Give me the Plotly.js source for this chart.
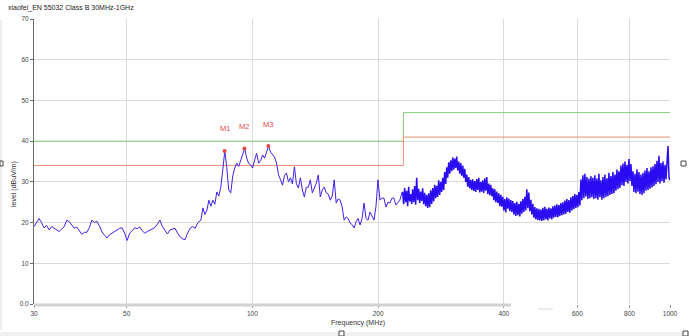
<!DOCTYPE html>
<html>
<head>
<meta charset="utf-8">
<script src="https://cdn.plot.ly/plotly-3.0.1.min.js"></script>
<style>
  html, body { margin: 0; padding: 0; background: #ffffff; }
  #chart { width: 689px; height: 336px; }
</style>
</head>
<body>
<div id="chart"></div>
<script>
// ---- data ----
const chartTitle = 'xiaofei_EN 55032 Class B 30MHz-1GHz';
const xTickVals = [30, 50, 100, 200, 400, 600, 800, 1000];
const xTickText = ['30', '50', '100', '200', '400', '600', '800', '1000'];
const yTickVals = [0, 10, 20, 30, 40, 50, 60, 70];
const yTickText = ['0.0', '10', '20', '30', '40', '50', '60', '70'];

// limit lines (MHz, dBuV/m)
const limitFreq = [30, 230, 230, 1000];
const classBLimit = [40, 40, 47, 47];
const marginLimit = [34, 34, 41, 41];

// measured trace, three sweep segments (levels evenly spaced in log frequency)
const segAStart = 30, segAStop = 75;
const levelA = [19, 20, 21, 20, 18.7, 19.3, 18.2, 19, 18.6, 18,
  17.8, 18.4, 19, 20.6, 20.2, 19.4, 18.6, 18.9, 18.1, 17.1,
  17.6, 17.6, 18.8, 20.6, 20, 20.3, 19.2, 17.7, 16.9, 16.2,
  17, 17.4, 18, 18.3, 18.6, 18.7, 17.4, 15.6, 17.4, 18,
  18.7, 18.5, 18.9, 18, 17.4, 17.8, 18.2, 18.5, 18.8, 19.6,
  20.6, 19, 18, 17.2, 18.2, 18.5, 18.6, 17.4, 16.5, 16,
  15.8, 17.4, 18.6, 19, 18.6, 19.9, 20.6];

const segBStart = 75.3, segBStop = 228;
const levelB = [20.6, 23.6, 22, 23, 25.5, 24, 25.5, 24.5, 27.5, 26.5,
  28.7, 33, 37.6, 33.5, 28, 27.3, 31.5, 33.4, 34.6, 33.8,
  35.4, 36.6, 38.2, 35.9, 34.5, 34.2, 33.4, 35.4, 37, 34.6,
  35.2, 36.6, 35.8, 37.3, 38.8, 37.3, 36.8, 36.1, 34.6, 31.8,
  30.5, 29.2, 31.5, 32.2, 30, 31, 29.5, 33.7, 29.5, 28.5,
  31, 28, 26.3, 28.7, 28.7, 30.5, 27.3, 28.5, 29.7, 31.7,
  26.3, 28, 28.7, 27.3, 27, 25.5, 26.5, 30.5, 24.8, 25.8,
  25.5, 23.8, 20.6, 21.4, 21, 19.9, 19.5, 18.7, 20.2, 21,
  19.4, 21, 24.8, 21, 20.6, 22.6, 21.5, 20.6, 24, 30.5,
  25.5, 26, 26, 23.8, 25, 24.8, 26, 26, 24.3, 25,
  25.5, 27.3];

const segCStart = 229, segCStop = 1000;
const levelC = [27.5, 24.5, 28.5, 25, 27.8, 24, 28.8, 25.2, 27, 24.6,
  28.2, 25, 29, 24.4, 31, 25.5, 28.3, 24.8, 27.6, 25.3,
  28.4, 24.5, 27.3, 24, 26.8, 23.6, 27.2, 23.8, 27.9, 24.6,
  28.5, 25.2, 29.3, 26, 29, 26.3, 30.4, 26.8, 30, 27.5,
  31, 28, 32.4, 29.5, 33.6, 31, 34.8, 32, 35.3, 32.6,
  36, 33, 35.7, 33.4, 36.2, 32.8, 35, 32, 34.6, 31.5,
  34, 31, 33.2, 30, 31.8, 28.8, 31.2, 28.4, 30.5, 28,
  30.6, 27.8, 30.2, 27.5, 30.7, 28, 31, 27.4, 30, 27.6,
  30.4, 27.3, 30.9, 27.8, 31.2, 27, 29.6, 26.7, 29.3, 26.5,
  28.4, 25.5, 28.2, 25, 27.6, 24.8, 27.2, 24, 26.8, 23.9,
  26.3, 23, 25.8, 22.5, 26.2, 23.4, 25.9, 22.8, 25.5, 22.6,
  25.3, 22, 24.8, 21.6, 25.1, 21.8, 24.6, 21.5, 25.2, 22.2,
  25.8, 22.6, 26.3, 23, 28.2, 23.5, 27.4, 22.8, 25.6, 22,
  24.6, 21.2, 23.8, 20.8, 23.5, 20.6, 23.4, 20.5, 23.2, 20.4,
  23.6, 20.6, 23.9, 20.8, 23.4, 20.5, 23.7, 21, 23.5, 20.8,
  24, 21.2, 24.2, 21.4, 24.5, 21.3, 24.3, 21.6, 24.8, 21.8,
  25, 22, 25.4, 22.2, 25.8, 22.6, 25.5, 22.4, 26.2, 23,
  26.5, 23.3, 27, 23.6, 26.8, 23.8, 27.5, 24.2, 30.6, 25.5,
  31.6, 26, 32, 26.4, 31.2, 25.8, 30.8, 26, 31.4, 26.2,
  31, 25.8, 31.6, 26, 30.8, 25.6, 32, 26.2, 30.4, 25.6,
  31.2, 26, 31.8, 26.3, 30.9, 26.5, 32.2, 26.8, 31.4, 27,
  32.4, 27.2, 31.8, 27.8, 33, 28.2, 32.6, 28.5, 34, 29.2,
  34.5, 29, 35, 30, 34.2, 29.6, 35.6, 30.2, 34.4, 29,
  32.6, 27.5, 32, 27.2, 33.1, 27.6, 32.4, 27, 31.8, 26.8,
  32.2, 27.2, 32.8, 27.8, 33.4, 28, 32.6, 28.3, 33.6, 28.6,
  33.8, 29, 34.4, 29.4, 35.2, 30, 36.4, 29.6, 34.6, 30.2,
  35, 29.8, 34.2, 30.6, 36, 38.8, 31, 30.4];

// peak markers
const markerLabel = ['M1', 'M2', 'M3'];
const markerFreq = [85.8, 95.7, 109.2];
const markerLevel = [37.6, 38.2, 38.8];

// ---- build ----
function sweep(start, stop, n) {
  const a = Math.log10(start), b = Math.log10(stop);
  const out = [];
  for (let i = 0; i < n; i++) out.push(Math.pow(10, a + (b - a) * i / (n - 1)));
  return out;
}
const freqA = sweep(segAStart, segAStop, levelA.length);
const freqB = sweep(segBStart, segBStop, levelB.length);
const freqC = sweep(segCStart, segCStop, levelC.length);

const FONT = 'Liberation Sans, Arial, sans-serif';
const W = 689, H = 336;
const L = 34, R = 19, T = 19, B = 32;
const pw = W - L - R, ph = H - T - B;
const px = (x) => (x - L) / pw;      // pixel -> paper x
const py = (y) => (H - B - y) / ph;  // pixel -> paper y
const BLUE = '#2a0cf2';

const data = [
  { x: limitFreq, y: classBLimit, type: 'scatter', mode: 'lines',
    line: { color: '#8acb7c', width: 1 }, hoverinfo: 'skip' },
  { x: limitFreq, y: marginLimit, type: 'scatter', mode: 'lines',
    line: { color: '#ef9474', width: 1 }, hoverinfo: 'skip' },
  { x: freqA.concat(freqB), y: levelA.concat(levelB), type: 'scatter', mode: 'lines',
    line: { color: '#3d22e6', width: 1 }, hoverinfo: 'skip' },
  { x: [freqB[freqB.length - 1]].concat(freqC), y: [levelB[levelB.length - 1]].concat(levelC),
    type: 'scatter', mode: 'lines',
    line: { color: BLUE, width: 1.5 }, hoverinfo: 'skip' },
  { x: markerFreq, y: markerLevel, type: 'scatter', mode: 'markers',
    marker: { color: '#e8454a', size: 4 }, hoverinfo: 'skip' }
];

const annotations = markerLabel.map((t, i) => ({
  x: Math.log10(markerFreq[i]), y: markerLevel[i], xref: 'x', yref: 'y',
  xanchor: 'center', yanchor: 'middle',
  text: t, showarrow: false, yshift: 22,
  font: { family: FONT, size: 7.5, color: '#e8454a' }
}));
annotations.push({
  xref: 'paper', yref: 'paper', x: px(14), y: py(184), xanchor: 'center', yanchor: 'middle',
  text: 'level (dBuV/m)', textangle: -90, showarrow: false,
  font: { family: FONT, size: 7, color: '#333' }
});
annotations.push({
  xref: 'paper', yref: 'paper', x: px(358), y: py(323), xanchor: 'center', yanchor: 'middle',
  text: 'Frequency (MHz)', showarrow: false,
  font: { family: FONT, size: 7, color: '#333' }
});
annotations.push({
  xref: 'paper', yref: 'paper', x: px(6), y: py(8), xanchor: 'left', yanchor: 'middle',
  text: chartTitle, showarrow: false,
  font: { family: FONT, size: 7, color: '#222' }
});

const shapes = [
  // bottom axis bar
  { type: 'line', xref: 'paper', yref: 'paper', x0: 0, x1: px(511), y0: py(305), y1: py(305),
    line: { color: '#d2d2d2', width: 3 } },
  { type: 'line', xref: 'paper', yref: 'paper', x0: px(538), x1: px(553), y0: py(309), y1: py(309),
    line: { color: '#d8d8d8', width: 1 } },
  // window frame bits
  { type: 'rect', xref: 'paper', yref: 'paper', x0: px(0), x1: px(2), y0: py(20), y1: py(330),
    fillcolor: '#eeeeee', line: { width: 0 } },
  { type: 'rect', xref: 'paper', yref: 'paper', x0: px(0), x1: px(689), y0: py(332), y1: py(336),
    fillcolor: '#f0f0f0', line: { width: 0 } },
  { type: 'rect', xref: 'paper', yref: 'paper', x0: px(0), x1: px(3), y0: py(161), y1: py(166),
    fillcolor: '#ffffff', line: { color: '#444', width: 1 } },
  { type: 'rect', xref: 'paper', yref: 'paper', x0: px(681), x1: px(686), y0: py(161), y1: py(166),
    fillcolor: '#ffffff', line: { color: '#444', width: 1 } },
  { type: 'rect', xref: 'paper', yref: 'paper', x0: px(339), x1: px(344), y0: py(331), y1: py(336),
    fillcolor: '#ffffff', line: { color: '#444', width: 1 } },
  { type: 'rect', xref: 'paper', yref: 'paper', x0: px(683), x1: px(688), y0: py(331), y1: py(336),
    fillcolor: '#ffffff', line: { color: '#444', width: 1 } }
];

const layout = {
  width: W, height: H,
  margin: { l: L, r: R, t: T, b: B, pad: 0 },
  paper_bgcolor: '#ffffff', plot_bgcolor: '#ffffff',
  showlegend: false,
  font: { family: FONT, size: 6.5, color: '#444' },
  xaxis: {
    type: 'log', range: [Math.log10(30), Math.log10(1000)],
    tickvals: xTickVals, ticktext: xTickText,
    showgrid: true, gridcolor: '#dadada', gridwidth: 1,
    showline: false, zeroline: false,
    ticks: 'outside', ticklen: 3, tickcolor: '#9a9a9a', tickwidth: 1,
    tickfont: { family: FONT, size: 6.5, color: '#444' }
  },
  yaxis: {
    range: [0, 70], tickvals: yTickVals, ticktext: yTickText,
    showgrid: true, gridcolor: '#dadada', gridwidth: 1,
    showline: true, linecolor: '#6a6a6a', linewidth: 1, zeroline: false,
    ticks: 'outside', ticklen: 3, tickcolor: '#6a6a6a', tickwidth: 1,
    tickfont: { family: FONT, size: 6.5, color: '#444' }
  },
  annotations: annotations,
  shapes: shapes
};

Plotly.newPlot('chart', data, layout, { staticPlot: true, displayModeBar: false });
</script>
</body>
</html>
